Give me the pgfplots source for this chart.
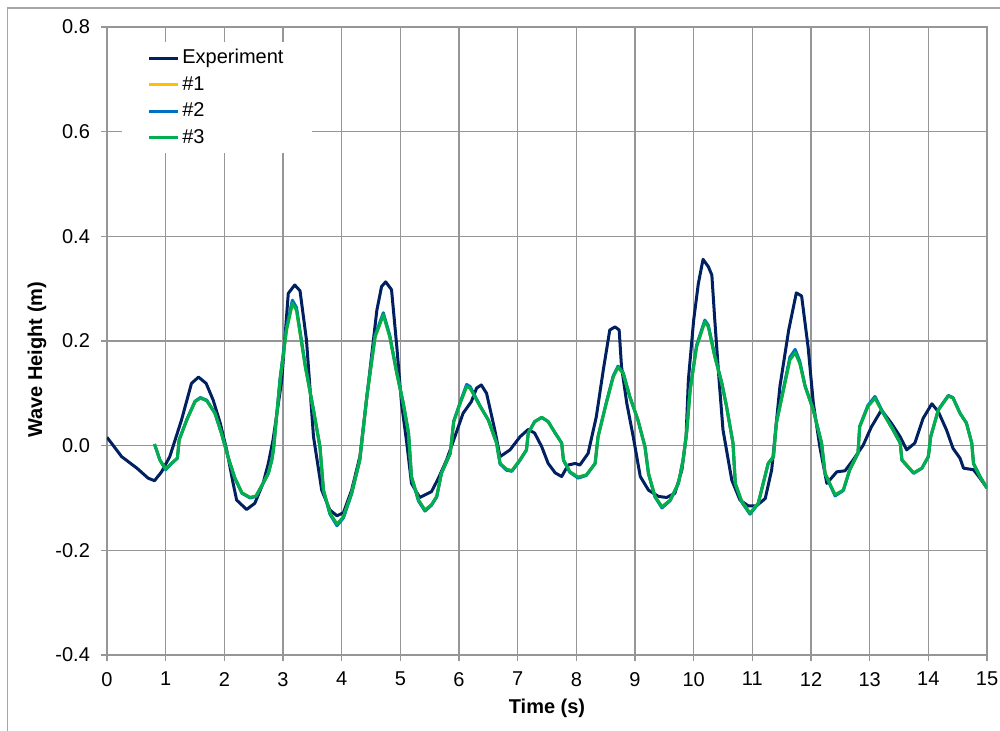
\documentclass[border=0pt]{standalone}
\usepackage{fontspec}
\setmainfont{Liberation Sans}
\usepackage{pgfplots}
\pgfplotsset{compat=1.18}
\usepackage{pgfplotstable}
\definecolor{cnavy}{HTML}{002060}
\definecolor{cyellow}{HTML}{FFC000}
\definecolor{cblue}{HTML}{0070C0}
\definecolor{cgreen}{HTML}{00B050}
\definecolor{gridgray}{HTML}{969696}
\definecolor{framegray}{HTML}{A6A6A6}

\pgfplotstableread{
t y
0.00 0.016
0.25 -0.021
0.51 -0.043
0.70 -0.062
0.81 -0.067
0.93 -0.050
1.07 -0.021
1.27 0.049
1.44 0.119
1.56 0.131
1.69 0.119
1.81 0.087
1.93 0.043
2.04 -0.008
2.15 -0.072
2.21 -0.104
2.38 -0.122
2.52 -0.110
2.66 -0.072
2.75 -0.034
2.83 0.011
2.98 0.126
3.09 0.291
3.20 0.307
3.29 0.296
3.40 0.202
3.52 0.017
3.66 -0.085
3.80 -0.123
3.92 -0.134
4.03 -0.128
4.17 -0.085
4.31 -0.021
4.45 0.113
4.60 0.259
4.68 0.304
4.75 0.313
4.85 0.298
4.94 0.189
5.02 0.081
5.11 0.005
5.19 -0.072
5.33 -0.099
5.53 -0.088
5.65 -0.062
5.79 -0.027
5.91 0.011
6.07 0.062
6.21 0.084
6.30 0.110
6.38 0.116
6.47 0.100
6.61 0.030
6.70 -0.021
6.87 -0.008
7.04 0.017
7.18 0.031
7.29 0.024
7.41 -0.002
7.52 -0.034
7.64 -0.052
7.75 -0.059
7.86 -0.037
7.98 -0.034
8.06 -0.037
8.20 -0.015
8.34 0.055
8.46 0.145
8.57 0.221
8.66 0.227
8.73 0.221
8.77 0.151
8.86 0.081
8.97 0.017
9.09 -0.059
9.23 -0.085
9.40 -0.097
9.54 -0.099
9.68 -0.091
9.80 -0.046
9.87 0.017
9.91 0.126
10.00 0.240
10.08 0.310
10.16 0.356
10.25 0.342
10.31 0.326
10.36 0.240
10.43 0.130
10.50 0.030
10.65 -0.066
10.79 -0.104
10.93 -0.115
11.07 -0.115
11.22 -0.101
11.33 -0.046
11.47 0.113
11.62 0.221
11.75 0.292
11.84 0.286
11.95 0.189
12.04 0.081
12.15 -0.002
12.27 -0.072
12.44 -0.050
12.58 -0.048
12.72 -0.027
12.89 0.001
13.03 0.036
13.20 0.068
13.37 0.043
13.52 0.017
13.63 -0.008
13.77 0.005
13.91 0.052
14.06 0.080
14.17 0.065
14.31 0.030
14.42 -0.005
14.54 -0.024
14.60 -0.043
14.77 -0.046
14.88 -0.062
15.00 -0.081
}\expdata

\pgfplotstableread{
t y
0.81 0.003
0.90 -0.027
1.00 -0.045
1.10 -0.034
1.20 -0.024
1.23 0.011
1.36 0.049
1.50 0.084
1.59 0.091
1.70 0.086
1.84 0.062
1.95 0.024
2.07 -0.024
2.18 -0.062
2.30 -0.090
2.44 -0.099
2.54 -0.096
2.66 -0.072
2.75 -0.053
2.81 -0.027
2.84 -0.005
2.95 0.126
3.06 0.221
3.16 0.272
3.23 0.259
3.38 0.151
3.52 0.068
3.63 -0.002
3.69 -0.085
3.80 -0.129
3.92 -0.150
4.03 -0.136
4.17 -0.091
4.31 -0.027
4.43 0.094
4.57 0.208
4.71 0.250
4.82 0.208
4.94 0.138
5.05 0.081
5.14 0.024
5.19 -0.059
5.31 -0.104
5.42 -0.123
5.53 -0.113
5.62 -0.097
5.70 -0.053
5.85 -0.015
5.91 0.046
6.03 0.084
6.13 0.113
6.19 0.110
6.36 0.075
6.50 0.049
6.64 0.005
6.70 -0.034
6.81 -0.045
6.90 -0.048
7.04 -0.027
7.15 -0.008
7.18 0.024
7.29 0.046
7.41 0.054
7.52 0.046
7.64 0.024
7.75 0.005
7.78 -0.027
7.89 -0.050
8.03 -0.060
8.17 -0.056
8.32 -0.034
8.37 0.017
8.51 0.081
8.63 0.132
8.71 0.150
8.80 0.138
8.91 0.094
9.05 0.049
9.17 -0.002
9.23 -0.053
9.34 -0.097
9.46 -0.117
9.60 -0.104
9.74 -0.072
9.82 -0.027
9.88 0.024
9.94 0.106
10.05 0.189
10.19 0.237
10.25 0.227
10.36 0.170
10.48 0.119
10.56 0.075
10.67 0.005
10.71 -0.072
10.82 -0.107
10.96 -0.129
11.10 -0.110
11.27 -0.034
11.36 -0.021
11.41 0.043
11.53 0.106
11.64 0.164
11.73 0.178
11.81 0.157
11.90 0.113
12.04 0.068
12.18 0.005
12.24 -0.053
12.41 -0.094
12.55 -0.085
12.66 -0.046
12.80 -0.015
12.83 0.036
12.97 0.075
13.09 0.091
13.23 0.062
13.40 0.030
13.52 0.005
13.55 -0.027
13.75 -0.052
13.89 -0.043
14.00 -0.021
14.04 0.017
14.17 0.068
14.34 0.095
14.42 0.091
14.54 0.062
14.65 0.043
14.74 0.005
14.77 -0.034
14.88 -0.059
15.00 -0.081
}\simthree

\pgfplotstableread{
t y
0.81 0.003
0.90 -0.027
1.00 -0.046
1.10 -0.034
1.20 -0.024
1.23 0.011
1.36 0.050
1.50 0.085
1.59 0.092
1.70 0.087
1.84 0.062
1.95 0.024
2.07 -0.024
2.18 -0.062
2.30 -0.091
2.44 -0.100
2.54 -0.097
2.66 -0.072
2.75 -0.053
2.81 -0.027
2.84 -0.005
2.95 0.128
3.06 0.226
3.16 0.278
3.23 0.264
3.38 0.153
3.52 0.068
3.63 -0.002
3.69 -0.086
3.80 -0.131
3.92 -0.153
4.03 -0.138
4.17 -0.092
4.31 -0.027
4.43 0.095
4.57 0.211
4.71 0.254
4.82 0.211
4.94 0.139
5.05 0.081
5.14 0.024
5.19 -0.060
5.31 -0.106
5.42 -0.125
5.53 -0.114
5.62 -0.098
5.70 -0.053
5.85 -0.015
5.91 0.047
6.03 0.086
6.13 0.117
6.19 0.113
6.36 0.076
6.50 0.049
6.64 0.005
6.70 -0.035
6.81 -0.047
6.90 -0.049
7.04 -0.028
7.15 -0.008
7.18 0.024
7.29 0.046
7.41 0.054
7.52 0.046
7.64 0.024
7.75 0.005
7.78 -0.028
7.89 -0.051
8.03 -0.062
8.17 -0.057
8.32 -0.034
8.37 0.017
8.51 0.082
8.63 0.134
8.71 0.152
8.80 0.139
8.91 0.094
9.05 0.049
9.17 -0.002
9.23 -0.054
9.34 -0.098
9.46 -0.119
9.60 -0.105
9.74 -0.072
9.82 -0.027
9.88 0.025
9.94 0.108
10.05 0.192
10.19 0.240
10.25 0.230
10.36 0.172
10.48 0.120
10.56 0.075
10.67 0.005
10.71 -0.073
10.82 -0.108
10.96 -0.131
11.10 -0.111
11.27 -0.034
11.36 -0.021
11.41 0.044
11.53 0.109
11.64 0.169
11.73 0.184
11.81 0.161
11.90 0.114
12.04 0.068
12.18 0.005
12.24 -0.054
12.41 -0.096
12.55 -0.086
12.66 -0.046
12.80 -0.015
12.83 0.037
12.97 0.077
13.09 0.094
13.23 0.063
13.40 0.030
13.52 0.005
13.55 -0.028
13.75 -0.053
13.89 -0.043
14.00 -0.021
14.04 0.017
14.17 0.069
14.34 0.096
14.42 0.092
14.54 0.062
14.65 0.043
14.74 0.005
14.77 -0.034
14.88 -0.059
15.00 -0.081
}\simtwo

\begin{document}
\begin{tikzpicture}
\useasboundingbox (-53.5pt,-38pt) rectangle (446.5pt,327.5pt);
\clip (-53.5pt,-38pt) rectangle (446.5pt,327.5pt);
\draw[framegray, line width=0.6pt] (-49.75pt,323.5pt) rectangle (470pt,-60pt);
\begin{axis}[
  at={(0pt,0pt)}, anchor=south west,
  scale only axis, width=440pt, height=314pt,
  xmin=0, xmax=15, ymin=-0.4, ymax=0.8,
  xtick={0,1,...,15},
  ytick={-0.4,-0.2,0,0.2,0.4,0.6,0.8},
  yticklabels={-0.4,-0.2,0.0,0.2,0.4,0.6,0.8},
  xtick pos=bottom, ytick pos=left,
  tick align=outside, major tick length=3pt,
  grid=major,
  major grid style={draw=gridgray, line width=0.6pt},
  axis line style={draw=gridgray, line width=0.6pt},
  every tick/.style={draw=gridgray, line width=0.6pt},
  ticklabel style={font=\fontsize{10}{12}\selectfont},
  yticklabel style={xshift=-2pt},
  xticklabel style={yshift=-2pt},
  /pgf/number format/assume math mode=true,
  xlabel={Time (s)}, ylabel={Wave Height (m)},
  xlabel style={at={(axis description cs:0.5,-0.0844)}, anchor=center, font=\bfseries\fontsize{10}{12}\selectfont},
  ylabel style={at={(axis description cs:-0.0795,0.47)}, anchor=center, font=\bfseries\fontsize{10}{12}\selectfont},
  legend cell align=left,
  legend style={at={(axis description cs:0.017,0.976)}, anchor=north west,
    draw=none, fill=white, font=\fontsize{10}{12}\selectfont,
    inner xsep=12.5pt, inner ysep=1.6pt, row sep=0.75pt,
    nodes={text height=7.5pt, text depth=2pt, inner sep=1.5pt}},
  legend image code/.code={\draw[#1, line width=1.5pt] (0pt,0pt) -- (14.5pt,0pt);},
]
\addplot[color=cnavy, line width=1.5pt, line join=round] table {\expdata};
\addlegendentry{Experiment}
\addplot[color=cyellow, line width=1.5pt, line join=round] table {\simthree};
\addlegendentry{\#1}
\addplot[color=cblue, line width=1.5pt, line join=round] table {\simtwo};
\addlegendentry{\#2}
\addplot[color=cgreen, line width=1.5pt, line join=round] table {\simthree};
\addlegendentry{\#3}
\end{axis}
\end{tikzpicture}
\end{document}
